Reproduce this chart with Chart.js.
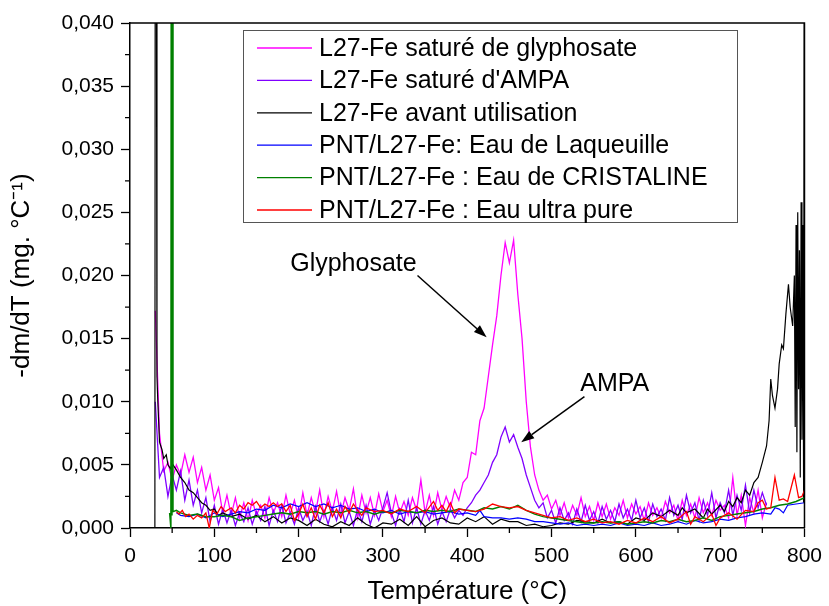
<!DOCTYPE html>
<html>
<head>
<meta charset="utf-8">
<script src="https://cdn.jsdelivr.net/npm/chart.js@4.4.1/dist/chart.umd.min.js"></script>
<style>
    html, body { margin: 0; padding: 0; background: #fff; }
    #wrap { width: 829px; height: 606px; }
</style>
</head>
<body>
<div id="wrap"><canvas id="tgaChart" width="829" height="606"></canvas></div>
<script>
// échantillonnage des deux courbes bruitées (°C)
const noisyTemps = [
    30, 35, 40, 45, 50, 55, 60, 65, 70, 75, 80, 85, 90, 95,
    100, 105, 110, 115, 120, 125, 130, 135, 140, 145, 150, 155, 160, 165, 170, 175, 180, 185, 190, 195,
    200, 205, 210, 215, 220, 225, 230, 235, 240, 245, 250, 255, 260, 265, 270, 275, 280, 285, 290, 295,
    300, 305, 310, 315, 320, 325, 330, 335, 340, 345, 350, 355, 360, 365, 370, 375, 380, 385, 390, 395,
    400, 405, 410, 415, 420, 425, 430, 435, 440, 445, 450, 455, 460, 465, 470, 475, 480, 485, 490, 495,
    500, 505, 510, 515, 520, 525, 530, 535, 540, 545, 550, 555, 560, 565, 570, 575, 580, 585, 590, 595,
    600, 605, 610, 615, 620, 625, 630, 635, 640, 645, 650, 655, 660, 665, 670, 675, 680, 685, 690, 695,
    700, 705, 710, 715, 720, 725, 730, 735, 740, 745, 750, 755
];

const glyphosateValues = [
    0.0172, 0.0075, 0.0045, 0.0052, 0.0038, 0.0050, 0.0042, 0.0058, 0.0044, 0.0056, 0.0036, 0.0048, 0.0030, 0.0042,
    0.0022, 0.0032, 0.0012, 0.0026, 0.0010, 0.0024, 0.0008, 0.0020, 0.0006, 0.0022, 0.0010, 0.0018, 0.0008, 0.0024, 0.0012, 0.0020, 0.0009, 0.0026, 0.0011, 0.0022,
    0.0008, 0.0028, 0.0010, 0.0024, 0.0012, 0.0030, 0.0009, 0.0025, 0.0013, 0.0029, 0.0010, 0.0024, 0.0014, 0.0031, 0.0008, 0.0026, 0.0012, 0.0024, 0.0010, 0.0027,
    0.0013, 0.0022, 0.0009, 0.0025, 0.0012, 0.0021, 0.0010, 0.0024, 0.0014, 0.0038, 0.0012, 0.0026, 0.0010, 0.0028, 0.0014, 0.0025, 0.0016, 0.0030, 0.0022, 0.0036,
    0.0040, 0.0060, 0.0058, 0.0085, 0.0095, 0.0120, 0.0145, 0.0168, 0.0200, 0.0226, 0.0210, 0.0228, 0.0185, 0.0150, 0.0100, 0.0064, 0.0042, 0.0030, 0.0022, 0.0026,
    0.0015, 0.0022, 0.0010, 0.0020, 0.0008, 0.0018, 0.0010, 0.0024, 0.0009, 0.0017, 0.0006, 0.0020, 0.0009, 0.0019, 0.0007, 0.0016, 0.0010, 0.0022, 0.0008, 0.0019,
    0.0011, 0.0017, 0.0006, 0.0020, 0.0010, 0.0016, 0.0008, 0.0021, 0.0012, 0.0018, 0.0006, 0.0022, 0.0010, 0.0019, 0.0008, 0.0024, 0.0012, 0.0020, 0.0010, 0.0022,
    0.0014, 0.0018, 0.0008, 0.0040, 0.0010, 0.0026, 0.0002, 0.0024, 0.0012, 0.0030, 0.0008, 0.0020
];

const ampaValues = [
    0.0100, 0.0040, 0.0048, 0.0025, 0.0042, 0.0030, 0.0045, 0.0022, 0.0038, 0.0018, 0.0030, 0.0012, 0.0024, 0.0005,
    0.0018, 0.0003, 0.0015, 0.0004, 0.0014, 0.0002, 0.0012, 0.0005, 0.0016, 0.0003, 0.0013, 0.0006, 0.0017, 0.0002, 0.0014, 0.0005, 0.0018, 0.0004, 0.0012, 0.0003,
    0.0016, 0.0006, 0.0013, 0.0002, 0.0017, 0.0005, 0.0014, 0.0003, 0.0016, 0.0006, 0.0019, 0.0004, 0.0013, 0.0002, 0.0015, 0.0005, 0.0018, 0.0003, 0.0014, 0.0006,
    0.0016, 0.0028, 0.0012, 0.0002, 0.0015, 0.0005, 0.0022, 0.0004, 0.0016, 0.0003, 0.0014, 0.0006, 0.0017, 0.0003, 0.0013, 0.0005, 0.0015, 0.0008, 0.0014, 0.0010,
    0.0016, 0.0020, 0.0026, 0.0030, 0.0036, 0.0042, 0.0052, 0.0058, 0.0072, 0.0080, 0.0068, 0.0074, 0.0064, 0.0055, 0.0042, 0.0032, 0.0022, 0.0016, 0.0020, 0.0008,
    0.0014, 0.0004, 0.0016, 0.0006, 0.0012, 0.0003, 0.0015, 0.0005, 0.0018, 0.0006, 0.0013, 0.0004, 0.0017, 0.0007, 0.0014, 0.0005, 0.0019, 0.0008, 0.0015, 0.0006,
    0.0022, 0.0008, 0.0016, 0.0005, 0.0019, 0.0009, 0.0015, 0.0006, 0.0024, 0.0010, 0.0018, 0.0007, 0.0026, 0.0012, 0.0020, 0.0006, 0.0022, 0.0010, 0.0028, 0.0008,
    0.0020, 0.0012, 0.0030, 0.0010, 0.0026, 0.0014, 0.0034, 0.0012, 0.0030, 0.0016, 0.0028, 0.0018
];

// L27-Fe avant utilisation
const blackTemps = [
    28, 29.5, 30, 31, 32, 33, 35, 38, 40, 43, 45, 48, 50, 55, 60, 65, 70, 75, 80, 85, 90, 95,
    100, 105, 110, 120, 130, 140, 150, 160, 170, 180, 190, 200, 210, 220, 230, 240, 250, 260, 270, 280, 290,
    300, 310, 320, 330, 340, 350, 360, 370, 380, 390, 400, 410, 420, 430, 440, 450, 460, 470, 480, 490,
    500, 510, 520, 530, 540, 550, 560, 570, 580, 590, 600, 610, 620, 630, 640, 650, 655, 660, 670, 680, 685, 690,
    700, 705, 710, 715, 720, 725, 730, 735, 740, 745, 750, 755, 758, 760, 762, 765, 768, 770, 773, 775, 778, 781,
    783, 786, 788, 789, 790, 791, 792, 793, 794, 795, 796, 797, 798, 799, 800
];
const blackValues = [
    0, 0, 0.06, 0.06, 0.0120, 0.0100, 0.0068, 0.0062, 0.0055, 0.0058, 0.0050, 0.0047, 0.0051, 0.0046, 0.0040, 0.0036, 0.0030, 0.0028, 0.0024, 0.0020, 0.0018, 0.0014,
    0.0015, 0.0010, 0.0012, 0.0009, 0.0011, 0.0007, 0.0010, 0.0005, 0.0009, 0.0004, 0.0008, 0.0006, 0.0002, 0.0007, 0.0003, 0.0001, 0.0005, 0.0002, 0.0008, 0.0003, 0.0000,
    0.0004, 0.0003, 0.0007, 0.0002, 0.0009, 0.0001, 0.0006, 0.0008, 0.0004, 0.0003, 0.0008, 0.0005, 0.0009, 0.0003, 0.0007, 0.0005, 0.0005, 0.0002, 0.0003, 0.0001,
    0.0002, 0.0004, 0.0003, 0.0006, 0.0005, 0.0004, 0.0007, 0.0004, 0.0005, 0.0003, 0.0008, 0.0006, 0.0012, 0.0009, 0.0014, 0.0010, 0.0016, 0.0012, 0.0015, 0.0008, 0.0015, 0.0011,
    0.0018, 0.0013, 0.0021, 0.0017, 0.0024, 0.0020, 0.0030, 0.0026, 0.0036, 0.0040, 0.0052, 0.0065, 0.0085, 0.0118, 0.0105, 0.0095, 0.0110, 0.0130, 0.0145, 0.0142, 0.0170, 0.0193,
    0.0175, 0.0160, 0.0200, 0.0080, 0.0240, 0.0060, 0.0250, 0.0110, 0.0220, 0.0040, 0.0258, 0.0070, 0.0240, 0.0020, 0.0600
];

// PNT/L27-Fe : Eau de Laqueuille
const blueTemps = [
    55, 60, 70, 80, 90, 100, 110, 120, 130, 140, 150, 160, 170, 180, 190, 200, 210, 220, 230, 240, 250, 260, 270, 280, 290,
    300, 310, 320, 330, 340, 350, 360, 370, 380, 390, 400, 410, 415, 420, 430, 440, 450, 460, 470, 480, 490,
    500, 510, 520, 530, 540, 550, 560, 570, 580, 590, 600, 610, 620, 630, 640, 650, 660, 670, 680, 690,
    700, 710, 720, 730, 740, 750, 760, 765, 770, 775, 780, 790, 800
];
const blueValues = [
    0.0012, 0.0010, 0.0009, 0.0011, 0.0008, 0.0012, 0.0009, 0.0011, 0.0013, 0.0012, 0.0015, 0.0014, 0.0018, 0.0016, 0.0019, 0.0017, 0.0020, 0.0017, 0.0019, 0.0016, 0.0018, 0.0015, 0.0016, 0.0013, 0.0015,
    0.0012, 0.0014, 0.0011, 0.0013, 0.0012, 0.0013, 0.0011, 0.0012, 0.0013, 0.0011, 0.0012, 0.0010, 0.0014, 0.0009, 0.0008, 0.0008, 0.0007, 0.0008, 0.0007, 0.0005, 0.0005,
    0.0004, 0.0003, 0.0004, 0.0002, 0.0003, 0.0002, 0.0003, 0.0002, 0.0004, 0.0002, 0.0003, 0.0002, 0.0004, 0.0002, 0.0003, 0.0005, 0.0003, 0.0006, 0.0004, 0.0005,
    0.0007, 0.0006, 0.0008, 0.0009, 0.0011, 0.0012, 0.0011, 0.0016, 0.0015, 0.0012, 0.0018, 0.0019, 0.0020
];

// PNT/L27-Fe : Eau de CRISTALINE
const greenTemps = [
    47, 48.5, 49, 49.8, 50.3, 51, 55, 60, 70, 80, 90, 100, 110, 120, 130, 140, 150, 160, 170, 180, 190,
    200, 210, 220, 230, 240, 250, 260, 270, 280, 290, 300, 310, 320, 330, 340, 350, 360, 370, 380, 390,
    400, 410, 420, 430, 440, 450, 460, 470, 480, 490, 500, 510, 520, 530, 540, 550, 560, 570, 580, 590,
    600, 610, 620, 630, 640, 650, 660, 670, 680, 690, 700, 710, 720, 730, 740, 750, 760, 770, 780, 790, 800
];
const greenValues = [
    0.0012, 0.0000, 0.0600, 0.0010, 0.0600, 0.0013, 0.0014, 0.0012, 0.0010, 0.0011, 0.0009, 0.0009, 0.0010, 0.0009, 0.0006, 0.0008, 0.0009, 0.0010, 0.0011, 0.0012, 0.0011,
    0.0013, 0.0012, 0.0013, 0.0011, 0.0013, 0.0012, 0.0014, 0.0012, 0.0013, 0.0011, 0.0013, 0.0012, 0.0014, 0.0013, 0.0012, 0.0014, 0.0013, 0.0014, 0.0013, 0.0015,
    0.0014, 0.0013, 0.0016, 0.0015, 0.0017, 0.0015, 0.0018, 0.0014, 0.0011, 0.0009, 0.0008, 0.0007, 0.0006, 0.0005, 0.0004, 0.0004, 0.0005, 0.0004, 0.0005, 0.0003,
    0.0004, 0.0005, 0.0004, 0.0006, 0.0005, 0.0007, 0.0005, 0.0006, 0.0008, 0.0006, 0.0009, 0.0010, 0.0011, 0.0012, 0.0013, 0.0015, 0.0016, 0.0018, 0.0019, 0.0021, 0.0024
];

// PNT/L27-Fe : Eau ultra pure
const redTemps = [
    55, 58, 62, 66, 70, 75, 80, 85, 90, 94, 98, 103, 108, 113, 120, 125, 130, 135, 140, 145, 150, 155, 160, 165, 170, 175, 180, 185, 190, 195,
    200, 205, 210, 215, 220, 225, 230, 235, 240, 245, 250, 255, 260, 265, 270, 275, 280, 290,
    300, 310, 320, 330, 340, 350, 360, 365, 370, 375, 380, 385, 390, 400, 410, 420, 430, 440, 450, 460, 470, 480, 490,
    500, 510, 520, 530, 540, 550, 560, 570, 580, 590, 600, 610, 620, 630, 640, 650, 660, 665, 670, 680, 690, 695,
    700, 710, 720, 730, 740, 745, 750, 755, 760, 765, 770, 775, 780, 788, 793, 797, 800
];
const redValues = [
    0.0013, 0.0011, 0.0014, 0.0009, 0.0011, 0.0007, 0.0010, 0.0008, 0.0012, 0.0000, 0.0014, 0.0011, 0.0017, 0.0013, 0.0016, 0.0012, 0.0018, 0.0015, 0.0020, 0.0018, 0.0021, 0.0016, 0.0019, 0.0017, 0.0020, 0.0017, 0.0019, 0.0013, 0.0018, 0.0006,
    0.0011, 0.0019, 0.0009, 0.0016, 0.0007, 0.0018, 0.0012, 0.0020, 0.0009, 0.0015, 0.0008, 0.0017, 0.0012, 0.0019, 0.0014, 0.0010, 0.0016, 0.0013,
    0.0014, 0.0011, 0.0015, 0.0013, 0.0017, 0.0012, 0.0021, 0.0014, 0.0018, 0.0013, 0.0020, 0.0012, 0.0015, 0.0014, 0.0013, 0.0015, 0.0019, 0.0017, 0.0016, 0.0017, 0.0014, 0.0012, 0.0010,
    0.0008, 0.0009, 0.0006, 0.0008, 0.0005, 0.0007, 0.0004, 0.0005, 0.0003, 0.0006, 0.0004, 0.0008, 0.0005, 0.0009, 0.0004, 0.0007, 0.0013, 0.0003, 0.0009, 0.0005, 0.0011, 0.0002,
    0.0008, 0.0012, 0.0007, 0.0014, 0.0013, 0.0020, 0.0022, 0.0015, 0.0016, 0.0040, 0.0022, 0.0023, 0.0021, 0.0042, 0.0024, 0.0025, 0.0030
];

const seriesLabels = [
    'L27-Fe saturé de glyphosate',
    "L27-Fe saturé d'AMPA",
    'L27-Fe avant utilisation',
    'PNT/L27-Fe: Eau de Laqueuille',
    'PNT/L27-Fe : Eau de CRISTALINE',
    'PNT/L27-Fe : Eau ultra pure'
];
const seriesColors = ['#FF00FF', '#8000FF', '#000000', '#0000FF', '#008000', '#FF0000'];

// annotations : texte + flèche (coordonnées en unités des axes)
const annotations = [
    { text: 'Glyphosate', textAt: [265, 0.0209], from: [341, 0.0200], to: [423, 0.0151] },
    { text: 'AMPA', textAt: [575, 0.0114], from: [539, 0.0104], to: [464, 0.0068] }
];

const FONT = "'Liberation Sans', Arial, sans-serif";

function pairs(xs, ys) {
    return xs.map((x, i) => ({ x: x, y: ys[i] }));
}

const datasets = [
    { data: pairs(noisyTemps, glyphosateValues), order: 6, borderWidth: 1.3 },
    { data: pairs(noisyTemps, ampaValues), order: 5, borderWidth: 1.3 },
    { data: pairs(blackTemps, blackValues), order: 4, borderWidth: 1.2 },
    { data: pairs(blueTemps, blueValues), order: 3, borderWidth: 1.2 },
    { data: pairs(greenTemps, greenValues), order: 2, borderWidth: 1.5 },
    { data: pairs(redTemps, redValues), order: 1, borderWidth: 1.3 }
].map((d, i) => Object.assign(d, {
    label: seriesLabels[i],
    borderColor: seriesColors[i],
    backgroundColor: seriesColors[i],
    pointRadius: 0,
    tension: 0,
    fill: false
}));

// cadre, petites graduations, légende encadrée et annotations
const decorPlugin = {
    id: 'decor',
    afterDraw(chart) {
        const ctx = chart.ctx;
        const a = chart.chartArea;
        const xs = chart.scales.x;
        const ys = chart.scales.y;
        ctx.save();

        // cadre haut / droite
        ctx.strokeStyle = '#000';
        ctx.lineWidth = 1.5;
        ctx.beginPath();
        ctx.moveTo(a.left, a.top);
        ctx.lineTo(a.right, a.top);
        ctx.lineTo(a.right, a.bottom);
        ctx.stroke();

        // graduations mineures
        ctx.lineWidth = 1.3;
        ctx.beginPath();
        for (let v = 50; v < 800; v += 100) {
            const px = xs.getPixelForValue(v);
            ctx.moveTo(px, a.bottom);
            ctx.lineTo(px, a.bottom + 5);
        }
        for (let v = 0.0025; v < 0.04; v += 0.005) {
            const py = ys.getPixelForValue(v);
            ctx.moveTo(a.left, py);
            ctx.lineTo(a.left - 5, py);
        }
        ctx.stroke();

        // légende
        const lx = a.left + 113, ly = a.top + 7, lw = 494, lh = 192, row = 32.4;
        ctx.fillStyle = '#fff';
        ctx.fillRect(lx, ly, lw, lh);
        ctx.strokeStyle = '#555';
        ctx.lineWidth = 1;
        ctx.strokeRect(lx + 0.5, ly + 0.5, lw, lh);
        ctx.font = '25px ' + FONT;
        ctx.textBaseline = 'middle';
        ctx.textAlign = 'left';
        chart.data.datasets.forEach((ds, i) => {
            const cy = ly + 18 + i * row;
            ctx.strokeStyle = ds.borderColor;
            ctx.lineWidth = 1.3;
            ctx.beginPath();
            ctx.moveTo(lx + 14, cy);
            ctx.lineTo(lx + 69, cy);
            ctx.stroke();
            ctx.fillStyle = '#000';
            ctx.fillText(ds.label, lx + 76, cy + 1);
        });

        // annotations
        ctx.font = '25px ' + FONT;
        ctx.textAlign = 'center';
        ctx.fillStyle = '#000';
        ctx.strokeStyle = '#000';
        annotations.forEach(an => {
            ctx.fillText(an.text, xs.getPixelForValue(an.textAt[0]), ys.getPixelForValue(an.textAt[1]));
            const x1 = xs.getPixelForValue(an.from[0]), y1 = ys.getPixelForValue(an.from[1]);
            const x2 = xs.getPixelForValue(an.to[0]), y2 = ys.getPixelForValue(an.to[1]);
            const ang = Math.atan2(y2 - y1, x2 - x1);
            const hl = 13, hw = 4.5;
            const bx = x2 - hl * Math.cos(ang), by = y2 - hl * Math.sin(ang);
            ctx.lineWidth = 1.5;
            ctx.beginPath();
            ctx.moveTo(x1, y1);
            ctx.lineTo(bx, by);
            ctx.stroke();
            ctx.beginPath();
            ctx.moveTo(x2, y2);
            ctx.lineTo(bx + hw * Math.sin(ang), by - hw * Math.cos(ang));
            ctx.lineTo(bx - hw * Math.sin(ang), by + hw * Math.cos(ang));
            ctx.closePath();
            ctx.fill();
        });

        ctx.restore();
    }
};

const tgaCtx = document.getElementById('tgaChart');

const tgaChart = new Chart(tgaCtx, {
    type: 'line',
    data: { datasets: datasets },
    plugins: [decorPlugin],
    options: {
        responsive: false,
        animation: false,
        layout: {
            padding: { top: 23, right: 19, left: 0, bottom: 0 }
        },
        plugins: {
            legend: { display: false },
            tooltip: { enabled: false }
        },
        scales: {
            x: {
                type: 'linear',
                min: 0,
                max: 800,
                afterFit: (s) => { s.height = 78; },
                ticks: {
                    stepSize: 100,
                    color: '#000',
                    padding: 7,
                    maxRotation: 0,
                    font: { family: FONT, size: 21 }
                },
                grid: {
                    drawOnChartArea: false,
                    tickLength: 9,
                    tickColor: '#000',
                    tickWidth: 1.3
                },
                border: { color: '#000', width: 1.5 },
                title: {
                    display: true,
                    text: 'Température (°C)',
                    color: '#000',
                    padding: { top: 0, bottom: 1 },
                    font: { family: FONT, size: 26, lineHeight: 1 }
                }
            },
            y: {
                min: 0,
                max: 0.04,
                afterFit: (s) => { s.width = 130; },
                ticks: {
                    stepSize: 0.005,
                    color: '#000',
                    padding: 7,
                    font: { family: FONT, size: 21 },
                    callback: (v) => v.toFixed(3).replace('.', ',')
                },
                grid: {
                    drawOnChartArea: false,
                    tickLength: 9,
                    tickColor: '#000',
                    tickWidth: 1.3
                },
                border: { color: '#000', width: 1.5 },
                title: {
                    display: true,
                    text: '-dm/dT (mg. °C⁻¹)',
                    color: '#000',
                    padding: { top: 9, bottom: 0 },
                    font: { family: FONT, size: 26, lineHeight: 1 }
                }
            }
        }
    }
});
</script>
</body>
</html>
